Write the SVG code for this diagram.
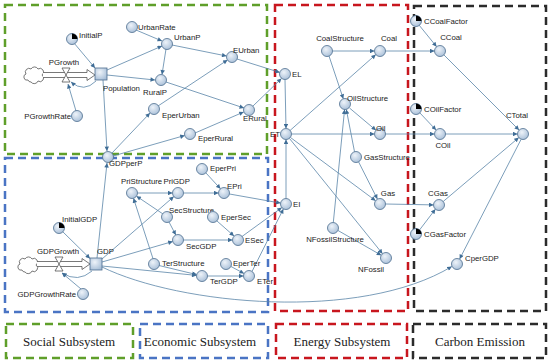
<svg xmlns="http://www.w3.org/2000/svg" xmlns:xlink="http://www.w3.org/1999/xlink" width="550" height="363" viewBox="0 0 550 363">
<style>
.t{font-family:"Liberation Sans",Arial,sans-serif;font-size:7.8px;fill:#222}
.m{text-anchor:middle}
.e{text-anchor:end}
.lg{font-family:"Liberation Serif","Times New Roman",serif;font-size:13px;fill:#222;text-anchor:middle}
.n{fill:url(#ng);stroke:#4d6d8e;stroke-width:0.8}
.c line,.c path{stroke:#5a85a8;stroke-width:0.8;fill:none;marker-end:url(#ah)}
.box{fill:none;stroke-width:2.5;stroke-dasharray:8 5}
.pipe{fill:#fff;stroke:#555;stroke-width:0.8}
.wedge{fill:#000}
</style>
<defs>
<radialGradient id="ng" cx="0.4" cy="0.35" r="0.7">
<stop offset="0" stop-color="#eef3f9"/>
<stop offset="1" stop-color="#a8bfd8"/>
</radialGradient>
<marker id="ah" viewBox="0 0 10 10" refX="10" refY="5" markerWidth="5.5" markerHeight="4.5" orient="auto" markerUnits="userSpaceOnUse">
<path d="M0,0 L10,5 L0,10 z" fill="#3f6d96"/>
</marker>
<path id="cloud" d="M-6 5 A3 3 0 0 1 -8 -1 A3.6 3.6 0 0 1 -3 -6 A4 4 0 0 1 4 -6 A3.6 3.6 0 0 1 8 0 A3.2 3.2 0 0 1 4 6 A4 4 0 0 1 -3 7 A3 3 0 0 1 -6 5 Z" fill="#fff" stroke="#555" stroke-width="0.8"/>
</defs>
<rect width="550" height="363" fill="#fff"/>

<g id="subsystem-boxes">
<rect class="box" x="5" y="5" width="262" height="149" stroke="#5f9f2a"/>
<rect class="box" x="5" y="158" width="263" height="154" stroke="#4a74c4"/>
<rect class="box" x="275" y="5" width="133" height="306" stroke="#c8161e"/>
<rect class="box" x="414" y="6" width="132" height="305" stroke="#2b2b2b"/>
</g>

<g id="connectors" class="c">
<!-- social -->
<line x1="74" y1="43" x2="95" y2="68"/>
<line x1="76" y1="111" x2="68" y2="84"/>
<path d="M96 81 Q84 93 71 82"/>
<line x1="107" y1="70" x2="162" y2="46"/>
<line x1="107" y1="75" x2="155" y2="80"/>
<line x1="136" y1="30" x2="162" y2="41"/>
<line x1="166" y1="49" x2="162" y2="74.5"/>
<line x1="172" y1="45" x2="226.5" y2="56"/>
<line x1="166" y1="82" x2="244" y2="108"/>
<line x1="103" y1="80" x2="107" y2="151"/>
<line x1="97" y1="258" x2="107" y2="163"/>
<line x1="112" y1="153" x2="150" y2="113"/>
<line x1="158" y1="106" x2="227.5" y2="60"/>
<line x1="113" y1="156" x2="184.7" y2="135.5"/>
<line x1="195" y1="133" x2="243.7" y2="112"/>
<line x1="237" y1="59" x2="279.8" y2="72.4"/>
<line x1="253" y1="106" x2="281.5" y2="78.5"/>
<!-- economic -->
<line x1="62" y1="231" x2="90" y2="258.5"/>
<line x1="81" y1="289" x2="62" y2="273"/>
<path d="M92 271 Q78 283 62 273"/>
<line x1="102" y1="259" x2="173.8" y2="196.6"/>
<line x1="102" y1="262" x2="172.7" y2="241.5"/>
<line x1="102" y1="266" x2="196.5" y2="275.4"/>
<line x1="137.5" y1="193" x2="172.5" y2="193"/>
<line x1="163" y1="214" x2="136.5" y2="196.2"/>
<line x1="153" y1="258.7" x2="133.5" y2="198.3"/>
<line x1="169" y1="222" x2="175.8" y2="235"/>
<line x1="159" y1="265.5" x2="196.7" y2="274.6"/>
<line x1="183.5" y1="193" x2="218.5" y2="193"/>
<line x1="206" y1="173" x2="220.5" y2="188.8"/>
<line x1="183.5" y1="240" x2="232.5" y2="240"/>
<line x1="217" y1="221" x2="234" y2="236"/>
<line x1="207.5" y1="276" x2="243.5" y2="276"/>
<line x1="231" y1="266.5" x2="244" y2="273.5"/>
<line x1="229.5" y1="194" x2="280.6" y2="203.1"/>
<line x1="242" y1="236.5" x2="281.8" y2="207.6"/>
<line x1="252" y1="271.5" x2="283.4" y2="208.9"/>
<path d="M102 267 C180 305 360 322 451.8 266.5"/>
<!-- energy -->
<line x1="285" y1="79.5" x2="286" y2="128.5"/>
<line x1="286" y1="198.5" x2="286" y2="139.5"/>
<line x1="290" y1="130.5" x2="375.8" y2="54.6"/>
<line x1="291.5" y1="134" x2="374.5" y2="134"/>
<line x1="290.5" y1="137.5" x2="375.6" y2="200.7"/>
<line x1="289.5" y1="138.5" x2="382.5" y2="253.7"/>
<line x1="332.5" y1="51" x2="374.5" y2="51"/>
<line x1="329" y1="56" x2="343.3" y2="98.8"/>
<line x1="349.5" y1="108" x2="376" y2="130.3"/>
<line x1="354.5" y1="151.7" x2="346.3" y2="109.4"/>
<line x1="333.3" y1="222.5" x2="344.6" y2="109.5"/>
<line x1="358.6" y1="161.9" x2="377.4" y2="199.1"/>
<line x1="338" y1="230.5" x2="381.2" y2="255.2"/>
<!-- carbon -->
<line x1="385.5" y1="51" x2="434.5" y2="51"/>
<line x1="419" y1="25" x2="436.6" y2="46.7"/>
<line x1="444" y1="55" x2="519.1" y2="130.1"/>
<line x1="385.5" y1="134" x2="434.5" y2="134"/>
<line x1="419.5" y1="112.5" x2="436.1" y2="130.1"/>
<line x1="445.5" y1="134" x2="517.5" y2="134"/>
<line x1="385.5" y1="204" x2="433.5" y2="204.9"/>
<line x1="419.5" y1="230" x2="435.4" y2="209.2"/>
<line x1="443.2" y1="201.5" x2="518.8" y2="137.6"/>
<line x1="521" y1="139.5" x2="459.6" y2="259.1"/>
</g>

<g id="flows">
<g id="PGrowth">
<use href="#cloud" x="34" y="75"/>
<path class="pipe" d="M43 72.5 L87 72.5 L87 69.5 L95 75 L87 80.5 L87 77.5 L43 77.5"/>
<path class="pipe" d="M62 68 L70 68 L62 82 L70 82 Z"/>
<text class="t m" x="64" y="65">PGrowth</text>
</g>
<g id="GDPGrowth">
<use href="#cloud" x="28" y="265"/>
<path class="pipe" d="M37 261.5 L82 261.5 L82 258.5 L90 264 L82 269.5 L82 266.5 L37 266.5"/>
<path class="pipe" d="M55 257 L63 257 L55 271 L63 271 Z"/>
<text class="t m" x="58" y="254">GDPGrowth</text>
</g>
</g>

<g id="InitialP"><circle class="n" cx="72" cy="39" r="5.5"/><path class="wedge" d="M72 39 L72 33.5 A5.5 5.5 0 0 1 77.5 39 Z"/><text class="t" x="79" y="38">InitialP</text></g>
<g id="Population"><rect class="n" x="95" y="68" width="12" height="12"/><text class="t" x="103" y="91">Population</text></g>
<g id="PGrowthRate"><circle class="n" cx="77" cy="116" r="5.5"/><text class="t e" x="71" y="119">PGrowthRate</text></g>
<g id="UrbanRate"><circle class="n" cx="132" cy="27" r="5.5"/><text class="t" x="138" y="30">UrbanRate</text></g>
<g id="UrbanP"><circle class="n" cx="167" cy="44" r="5.5"/><text class="t" x="174" y="40">UrbanP</text></g>
<g id="RuralP"><circle class="n" cx="161" cy="80" r="5.5"/><text class="t m" x="155" y="95">RuralP</text></g>
<g id="EUrban"><circle class="n" cx="232" cy="57" r="5.5"/><text class="t" x="233" y="53">EUrban</text></g>
<g id="EperUrban"><circle class="n" cx="154" cy="109" r="5.5"/><text class="t" x="162" y="118">EperUrban</text></g>
<g id="ERural"><circle class="n" cx="249" cy="110" r="5.5"/><text class="t" x="243" y="121">ERural</text></g>
<g id="EperRural"><circle class="n" cx="190" cy="134" r="5.5"/><text class="t" x="198" y="141">EperRural</text></g>
<g id="GDPperP"><circle class="n" cx="108" cy="157" r="5.5"/><text class="t" x="109" y="166">GDPperP</text></g>

<g id="InitialGDP"><circle class="n" cx="59" cy="228" r="5.5"/><path class="wedge" d="M59 228 L59 222.5 A5.5 5.5 0 0 1 64.5 228 Z"/><text class="t" x="62" y="222">InitialGDP</text></g>
<g id="GDP"><rect class="n" x="90" y="258" width="12" height="12"/><text class="t" x="97" y="254">GDP</text></g>
<g id="GDPGrowthRate"><circle class="n" cx="83" cy="294" r="5.5"/><text class="t e" x="76" y="297">GDPGrowthRate</text></g>
<g id="PriStructure"><circle class="n" cx="132" cy="193" r="5.5"/><text class="t" x="121" y="184">PriStructure</text></g>
<g id="PriGDP"><circle class="n" cx="178" cy="193" r="5.5"/><text class="t" x="163.5" y="184">PriGDP</text></g>
<g id="EperPri"><circle class="n" cx="202" cy="169" r="5.5"/><text class="t" x="210" y="171">EperPri</text></g>
<g id="EPri"><circle class="n" cx="224" cy="193" r="5.5"/><text class="t" x="227" y="189">EPri</text></g>
<g id="SecStructure"><circle class="n" cx="167" cy="217" r="5.5"/><text class="t" x="169" y="213">SecStructure</text></g>
<g id="EperSec"><circle class="n" cx="213" cy="217" r="5.5"/><text class="t" x="221" y="220">EperSec</text></g>
<g id="SecGDP"><circle class="n" cx="178" cy="240" r="5.5"/><text class="t" x="186" y="249">SecGDP</text></g>
<g id="ESec"><circle class="n" cx="238" cy="240" r="5.5"/><text class="t" x="245" y="243">ESec</text></g>
<g id="TerStructure"><circle class="n" cx="154" cy="264" r="5.5"/><text class="t" x="162" y="266">TerStructure</text></g>
<g id="EperTer"><circle class="n" cx="226" cy="264" r="5.5"/><text class="t" x="233" y="266">EperTer</text></g>
<g id="TerGDP"><circle class="n" cx="202" cy="276" r="5.5"/><text class="t" x="210" y="284">TerGDP</text></g>
<g id="ETer"><circle class="n" cx="249" cy="276" r="5.5"/><text class="t" x="257" y="284">ETer</text></g>

<g id="EL"><circle class="n" cx="285" cy="74" r="5.5"/><text class="t" x="292" y="77">EL</text></g>
<g id="ET"><circle class="n" cx="286" cy="134" r="5.5"/><text class="t e" x="280" y="137">ET</text></g>
<g id="EI"><circle class="n" cx="286" cy="204" r="5.5"/><text class="t" x="293" y="207">EI</text></g>
<g id="CoalStructure"><circle class="n" cx="327" cy="51" r="5.5"/><text class="t m" x="340" y="41">CoalStructure</text></g>
<g id="Coal"><circle class="n" cx="380" cy="51" r="5.5"/><text class="t m" x="389" y="41">Coal</text></g>
<g id="OilStructure"><circle class="n" cx="345" cy="104" r="5.5"/><text class="t" x="347" y="101">OilStructure</text></g>
<g id="Oil"><circle class="n" cx="380" cy="134" r="5.5"/><text class="t" x="376" y="131">Oil</text></g>
<g id="GasStructure"><circle class="n" cx="356" cy="157" r="5.5"/><text class="t" x="364" y="160">GasStructure</text></g>
<g id="Gas"><circle class="n" cx="380" cy="204" r="5.5"/><text class="t m" x="388" y="196">Gas</text></g>
<g id="NFossilStructure"><circle class="n" cx="333" cy="228" r="5.5"/><text class="t m" x="335" y="242">NFossilStructure</text></g>
<g id="NFossil"><circle class="n" cx="386" cy="258" r="5.5"/><text class="t m" x="371" y="272">NFossil</text></g>

<g id="CCoalFactor"><circle class="n" cx="416" cy="21" r="5.5"/><path class="wedge" d="M416 21 L416 15.5 A5.5 5.5 0 0 1 421.5 21 Z"/><text class="t" x="424" y="24">CCoalFactor</text></g>
<g id="CCoal"><circle class="n" cx="440" cy="51" r="5.5"/><text class="t m" x="451" y="40">CCoal</text></g>
<g id="COilFactor"><circle class="n" cx="416" cy="109" r="5.5"/><path class="wedge" d="M416 109 L416 103.5 A5.5 5.5 0 0 1 421.5 109 Z"/><text class="t" x="424" y="112">COilFactor</text></g>
<g id="COil"><circle class="n" cx="440" cy="134" r="5.5"/><text class="t m" x="443" y="148">COil</text></g>
<g id="CTotal"><circle class="n" cx="523" cy="134" r="5.5"/><text class="t m" x="517" y="118">CTotal</text></g>
<g id="CGas"><circle class="n" cx="439" cy="205" r="5.5"/><text class="t m" x="438" y="196">CGas</text></g>
<g id="CGasFactor"><circle class="n" cx="416" cy="234" r="5.5"/><path class="wedge" d="M416 234 L416 228.5 A5.5 5.5 0 0 1 421.5 234 Z"/><text class="t" x="424" y="237">CGasFactor</text></g>
<g id="CperGDP"><circle class="n" cx="457" cy="264" r="5.5"/><text class="t" x="465" y="261">CperGDP</text></g>

<g id="legend">
<rect class="box" x="6" y="324" width="127" height="34" stroke="#5f9f2a"/>
<text class="lg" x="69" y="346">Social Subsystem</text>
<rect class="box" x="140" y="324" width="128" height="34" stroke="#4a74c4"/>
<text class="lg" x="200" y="346">Economic Subsystem</text>
<rect class="box" x="276" y="324" width="131" height="34" stroke="#c8161e"/>
<text class="lg" x="342" y="346">Energy Subsystem</text>
<rect class="box" x="413" y="324" width="133" height="34" stroke="#2b2b2b"/>
<text class="lg" x="480" y="346">Carbon Emission</text>
</g>
</svg>
